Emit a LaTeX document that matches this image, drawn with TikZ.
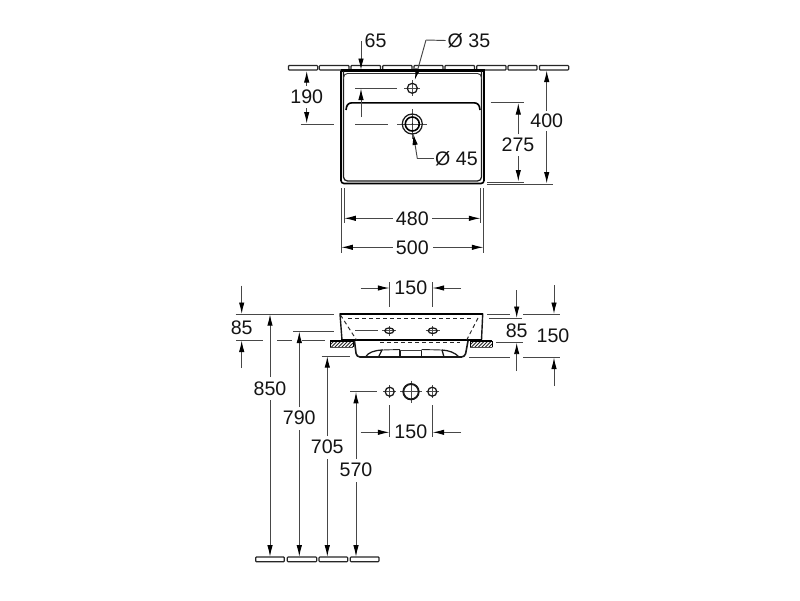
\documentclass[tikz,border=0pt]{standalone}
\usepackage{fontspec}
\setmainfont{Liberation Sans}
\usetikzlibrary{arrows.meta}
\tikzset{
  dimline/.style={line width=0.95pt,draw=black!72},
  dimarrow/.style={dimline,-{Latex[length=11.5pt,width=5.4pt,black]}},
  outline/.style={line width=1.25pt,draw=black!90},
  heavy/.style={line width=2.1pt,draw=black},
  dashline/.style={line width=0.95pt,draw=black!85,dash pattern=on 4pt off 3pt},
  wallseg/.style={line width=1.15pt,draw=black!85,fill=white,rounded corners=0.8pt},
  label/.style={font=\fontsize{19.6}{19.6}\selectfont,inner sep=0pt,text=black!92},
  cross/.style={line width=0.7pt,draw=black!70}
}
\newcommand{\holeX}[4]{% x y r arm
  \draw[cross] (#1-#4,#2) -- (#1+#4,#2) (#1,#2-#4) -- (#1,#2+#4);
  \draw[outline] (#1,#2) circle (#3);
}
\begin{document}
\begin{tikzpicture}[x=1pt,y=-1pt]
\useasboundingbox (0,0) rectangle (800,600);
\fill[white] (0,0) rectangle (800,600);

% ---- top view: wall strip
\foreach \a/\b in {288.5/317.7,319.3/349,351/380.5,382.7/412,414/443,445/474.5,476.7/506,508/537,539.5/568.7}
  \draw[wallseg] (\a,65.5) rectangle (\b,70);

% basin plan
\draw[fill=white,line width=1.6pt,draw=black,rounded corners=3pt] (341,70.5) -- (341,183.5) -- (484,183.5) -- (484,70.5);
\draw[heavy] (340.5,70.5) -- (484.5,70.5);
\draw[outline,rounded corners=4pt] (343.5,71) -- (343.5,181) -- (481.5,181) -- (481.5,71);
\draw[line width=0.9pt,draw=black!80,rounded corners=4pt] (343.5,79) -- (343.5,73.5) -- (481.5,73.5) -- (481.5,79);
\draw[heavy,line width=1.6pt] (346,110) .. controls (346.5,105) and (348,103) .. (352,102.8) -- (474,102.8) .. controls (478,103) and (479.5,105) .. (480,110);

% tap hole and waste
\holeX{412.3}{88.3}{5}{8}
\holeX{412.3}{124}{10}{15}
\draw[heavy,line width=1.6pt] (412.3,124) circle (7);
\fill (412.3,124) circle (0.7);

% centre marks
\draw[dimline] (355,88.3) -- (397,88.3);
\draw[dimline] (355,124) -- (388,124);
\draw[dimline] (300.7,124) -- (334,124);
\draw[dimarrow] (361,117) -- (361,88.5);

% 65
\node[label] (t65) at (375.5,40.5) {65};
\draw[dimarrow] (361,41) -- (361,70);
% diam 35
\node[label,anchor=west] (td35) at (447.5,40.5) {Ø 35};
\coordinate (l35) at (426,40);
\coordinate (h35) at (414.8,80);
\draw[dimline] (td35.west) ++(-2,0) -- (l35);
\draw[dimarrow] (l35) -- (h35);
% 190
\node[label] (t190) at (306.7,97) {190};
\draw[dimarrow] (306.7,86) -- (306.7,71);
\draw[dimarrow] (306.7,108) -- (306.7,123.5);
% diam 45
\node[label,anchor=west] (td45) at (435,159) {Ø 45};
\coordinate (l45) at (417.3,158.5);
\coordinate (h45) at (413.3,133.5);
\draw[dimline] (td45.west) ++(-1,-0.5) -- (l45);
\draw[dimarrow] (l45) -- (h45);
% 275
\draw[dimline] (490.7,102.7) -- (524,102.7);
\draw[dimline] (487,182) -- (524,182);
\node[label] (t275) at (518,145) {275};
\draw[dimarrow] (518.3,134) -- (518.3,103);
\draw[dimarrow] (518.3,156) -- (518.3,181.5);
% 400
\draw[dimline] (487,184) -- (553,184);
\node[label] (t400) at (546.7,121) {400};
\draw[dimarrow] (546.7,111) -- (546.7,70.5);
\draw[dimarrow] (546.7,131) -- (546.7,183.5);

% 480 / 500
\draw[dimline] (341,188) -- (341,252.7) (344,188) -- (344,223);
\draw[dimline] (483.7,188) -- (483.7,252.7) (480.7,188) -- (480.7,223);
\node[label] (t480) at (412.3,218.5) {480};
\node[label] (t500) at (412.3,247.5) {500};
\draw[dimarrow] (392.5,218.3) -- (344.3,218.3);
\draw[dimarrow] (432,218.3) -- (480.4,218.3);
\draw[dimarrow] (392.5,247.3) -- (341.3,247.3);
\draw[dimarrow] (433,247.3) -- (483.4,247.3);

% ---- side view
% top 150
\draw[dimline] (389.7,282) -- (389.7,306.7) (432.3,282) -- (432.3,306.7);
\node[label] (t150a) at (410.8,288) {150};
\draw[dimarrow] (360.7,288) -- (389.4,288);
\draw[dimarrow] (461,288) -- (432.6,288);

% hatch
\foreach \a/\b in {330/353.3,470/492.3} {
  \begin{scope}
    \clip (\a,341) rectangle (\b,347.3);
    \foreach \k in {0,3.5,...,32}
      \draw[line width=0.9pt,draw=black!85] (\a-6+\k,347.5) -- (\a+1+\k,340.5);
  \end{scope}
  \draw[line width=0.7pt,draw=black!70] (\a,347.3) -- (\b,347.3);
  \draw[line width=1.1pt] (\a,341) -- (\b,341);
  \draw[line width=0.9pt] (\a,341) -- (\a,347.3);
  \draw[line width=0.9pt] (\b,341) -- (\b,347.3);
}

% basin section
\draw[outline,line width=1.4pt,fill=white] (340,314) -- (342,340) -- (481.5,340) -- (482.7,314) -- cycle;
\draw[heavy,line width=1.8pt] (339.5,314) -- (483,314);
\draw[heavy] (341,340.3) -- (482,340.3);
\draw[dashline] (348,318.3) -- (473,318.3);
\draw[dashline] (340.5,315) -- (356.5,340);
\draw[dashline] (478,318) -- (466.7,340);
\draw[dashline] (380,342.5) -- (460,342.5);
% bowl
\draw[outline,line width=1.6pt,rounded corners=3.5pt] (354.5,341) -- (356.5,357) -- (465,357) -- (468,341);
\draw[outline] (365.5,357) .. controls (368,352.5) and (374,350.5) .. (382,350) -- (378.5,357);
\draw[outline] (442,350) .. controls (449,350.5) and (455,352.5) .. (459,357);
\draw[outline] (442,350) -- (444,357);
\draw[line width=0.9pt,draw=black!85] (382,350) -- (400,349.5);
\draw[line width=0.9pt,draw=black!85] (421.7,349.5) -- (442,350);
\draw[outline] (400,350) -- (400,356.8) -- (421.7,356.8) -- (421.7,350);
\draw[line width=0.9pt,draw=black!75] (400,350) -- (421.7,350);

% side holes
\foreach \x in {389.3,432.7} {
  \draw[cross] (\x-7,330.7) -- (\x+7,330.7) (\x,326) -- (\x,335.5);
  \draw[outline] (\x,330.7) ellipse (4.5 and 2.8);
}
\draw[dimline] (355,330.7) -- (378,330.7);

% plan holes below
\holeX{389.7}{391.7}{4.5}{6.5}
\holeX{411}{391.7}{8}{11}
\draw[outline,line width=1.5pt] (411,391.7) circle (7.5);
\holeX{432.3}{391.7}{4.5}{6.5}

% lower 150
\draw[dimline] (389.7,405) -- (389.7,436.7) (432.3,405) -- (432.3,436.7);
\node[label] (t150b) at (410.8,432) {150};
\draw[dimarrow] (360.7,432.3) -- (389.4,432.3);
\draw[dimarrow] (461,432.3) -- (432.6,432.3);

% right dims
\draw[dimline] (487,314) -- (510,314) (523,314) -- (560,314);
\draw[dimline] (489,318.3) -- (522,318.3);
\draw[dimline] (496,342.5) -- (522.7,342.5);
\draw[dimline] (469,357.3) -- (510,357.3) (523,357.3) -- (560,357.3);
\node[label] (t85r) at (516.7,331) {85};
\draw[dimarrow] (516.7,290) -- (516.7,318);
\draw[dimarrow] (516.7,371) -- (516.7,342.7);
\node[label] (t150r) at (553,336) {150};
\draw[dimarrow] (554,285) -- (554,314);
\draw[dimarrow] (554,386) -- (554,357.5);

% left dims
\draw[dimline] (235.7,314) -- (334,314);
\draw[dimline] (236,340) -- (263,340) (277,340) -- (292,340) (302,340) -- (325,340);
\draw[dimline] (293,331.3) -- (334,331.3);
\draw[dimline] (321.7,356) -- (350,356);
\draw[dimline] (350,391.7) -- (376.7,391.7);
\node[label] (t85l) at (241.7,327.5) {85};
\draw[dimarrow] (241.7,285.7) -- (241.7,314);
\draw[dimarrow] (241.7,368) -- (241.7,340.5);

% level strip and verticals
\foreach \a/\b in {255.7/284.3,287.3/316.7,319/347.7,350.3/379}
  \draw[wallseg] (\a,557) rectangle (\b,561.7);

\node[label] (t850) at (270,388.3) {850};
\node[label] (t790) at (299.3,418) {790};
\node[label] (t705) at (327.3,447) {705};
\node[label] (t570) at (356,470) {570};
\draw[dimarrow] (270,377) -- (270,314.2);
\draw[dimarrow] (270,400) -- (270,556.7);
\draw[dimarrow] (299.3,407) -- (299.3,331.5);
\draw[dimarrow] (299.3,430) -- (299.3,556.7);
\draw[dimarrow] (327.3,436) -- (327.3,356.2);
\draw[dimarrow] (327.3,459) -- (327.3,556.7);
\draw[dimarrow] (356,459) -- (356,391.9);
\draw[dimarrow] (356,482) -- (356,556.7);
\end{tikzpicture}
\end{document}
